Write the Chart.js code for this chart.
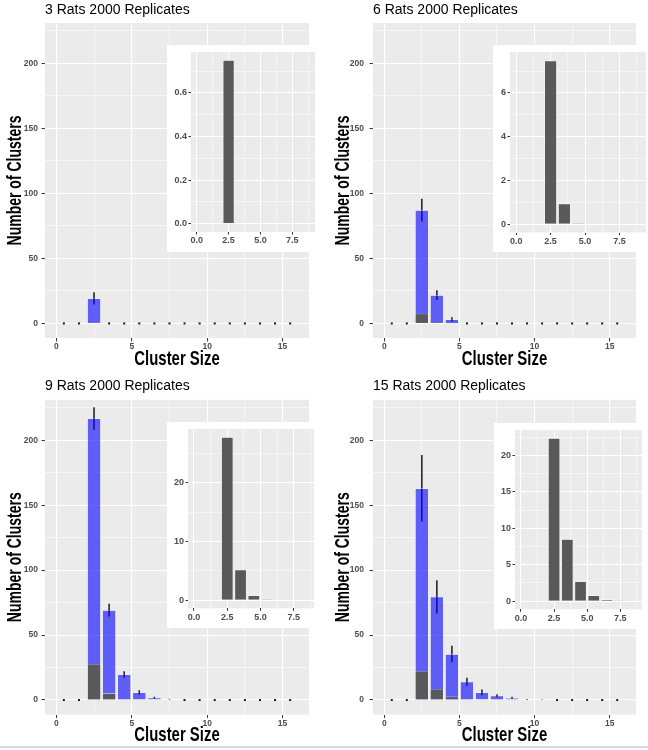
<!DOCTYPE html>
<html>
<head>
<meta charset="utf-8">
<script src="https://cdn.jsdelivr.net/npm/chart.js@4.4.0/dist/chart.umd.min.js"></script>
<style>
html, body { margin: 0; padding: 0; background: #fff; }
#fig { position: relative; width: 648px; height: 750px; overflow: hidden; background: #fff; }
#fig canvas { position: absolute; }
.inset { background: #fff; }
#rule { position: absolute; left: 0; top: 746px; width: 648px; height: 2px; background: #dadada; }
</style>
</head>
<body>
<div id="fig">
  <canvas id="main3" width="324" height="372" style="left:0;top:0"></canvas>
  <canvas id="main6" width="324" height="372" style="left:324px;top:0"></canvas>
  <canvas id="main9" width="324" height="378" style="left:0;top:372px"></canvas>
  <canvas id="main15" width="324" height="378" style="left:324px;top:372px"></canvas>
  <canvas id="inset3" class="inset" width="148" height="207" style="left:167px;top:45px"></canvas>
  <canvas id="inset6" class="inset" width="153" height="207" style="left:493px;top:45px"></canvas>
  <canvas id="inset9" class="inset" width="147" height="206" style="left:167px;top:422px"></canvas>
  <canvas id="inset15" class="inset" width="148" height="206" style="left:494px;top:423px"></canvas>
  <div id="rule"></div>
</div>
<script>
// cluster size bins (bar centres)
const clusterSizes = [0.5, 1.5, 2.5, 3.5, 4.5, 5.5, 6.5, 7.5, 8.5, 9.5, 10.5, 11.5, 12.5, 13.5, 14.5, 15.5];

// mean number of clusters (blue), sd (error bars), and the dark overlay series
const rats3Mean  = [0, 0, 19.2, 0, 0, 0, 0, 0, 0, 0, 0, 0, 0, 0, 0, 0];
const rats3Sd    = [0, 0, 4.7, 0, 0, 0, 0, 0, 0, 0, 0, 0, 0, 0, 0, 0];
const rats3Dark  = [0, 0, 0.75, 0, 0, 0, 0, 0, 0, 0, 0, 0, 0, 0, 0, 0];

const rats6Mean  = [0, 0, 87.2, 21.8, 3.1, 0, 0, 0, 0, 0, 0, 0, 0, 0, 0, 0];
const rats6Sd    = [0, 0, 8.7, 3.8, 1.7, 0, 0, 0, 0, 0, 0, 0, 0, 0, 0, 0];
const rats6Dark  = [0, 0, 7.47, 0.94, 0.06, 0, 0, 0, 0, 0, 0, 0, 0, 0, 0, 0];

const rats9Mean  = [0, 0, 216.7, 69.2, 19.7, 5.9, 1.8, 0.6, 0, 0, 0, 0, 0, 0, 0, 0];
const rats9Sd    = [0, 0, 8.7, 4.9, 2.5, 1.6, 0.7, 0.3, 0, 0, 0, 0, 0, 0, 0, 0];
const rats9Dark  = [0, 0, 27.8, 5.2, 0.8, 0.15, 0, 0, 0, 0, 0, 0, 0, 0, 0, 0];

const rats15Mean = [0, 0, 163, 79.5, 35.4, 14.1, 5.9, 3.3, 1.7, 0.6, 0.5, 0, 0, 0, 0, 0];
const rats15Sd   = [0, 0, 25.6, 12.8, 6.4, 3.0, 2.3, 1.2, 0.8, 0.3, 0.2, 0, 0, 0, 0, 0];
const rats15Dark = [0, 0, 22.4, 8.5, 2.7, 0.8, 0.25, 0.1, 0, 0, 0, 0, 0, 0, 0, 0];

// tick positions
const yMajor = [0, 50, 100, 150, 200];
const yMinor = [25, 75, 125, 175, 225];
const xMajor = [0, 5, 10, 15];
const xMinor = [2.5, 7.5, 12.5];
const insetXMajor = [0, 2.5, 5, 7.5];
const insetXMinor = [1.25, 3.75, 6.25, 8.75];
const inset3YMajor = [0, 0.2, 0.4, 0.6];
const inset3YMinor = [0.1, 0.3, 0.5, 0.7];
const inset6YMajor = [0, 2, 4, 6];
const inset6YMinor = [1, 3, 5, 7];
const inset9YMajor = [0, 10, 20];
const inset9YMinor = [5, 15, 25];
const inset15YMajor = [0, 5, 10, 15, 20];
const inset15YMinor = [2.5, 7.5, 12.5, 17.5, 22.5];

const REG = '"Liberation Sans", Arial, sans-serif';
const TICK_COL = '#4d4d4d';

// grey ggplot-like panel
const panelBg = {
    id: 'panelBg',
    beforeDraw(chart) {
        const a = chart.chartArea;
        const ctx = chart.ctx;
        ctx.save();
        ctx.fillStyle = '#ebebeb';
        ctx.fillRect(a.left, a.top, a.right - a.left, a.bottom - a.top);
        ctx.restore();
    }
};

// vertical error bars drawn under the bars
function errorBars(mean, sd) {
    return {
        id: 'errorBars',
        beforeDatasetsDraw(chart) {
            const ctx = chart.ctx;
            const xs = chart.scales.x, ys = chart.scales.y;
            ctx.save();
            ctx.strokeStyle = '#1a1a1a';
            ctx.fillStyle = '#1a1a1a';
            ctx.lineWidth = 1.5;
            clusterSizes.forEach((c, i) => {
                const px = xs.getPixelForValue(c);
                if (sd[i] === 0) {
                    const py = ys.getPixelForValue(mean[i]);
                    ctx.fillRect(px - 1, py - 1, 2, 2);
                    return;
                }
                ctx.beginPath();
                ctx.moveTo(px, ys.getPixelForValue(mean[i] - sd[i]));
                ctx.lineTo(px, ys.getPixelForValue(mean[i] + sd[i]));
                ctx.stroke();
            });
            ctx.restore();
        }
    };
}

// condensed bold axis titles, like the narrow font of the original
function axisTitles(yTitleX, xTitleY) {
    return {
        id: 'axisTitles',
        afterDraw(chart) {
            const a = chart.chartArea;
            const ctx = chart.ctx;
            ctx.save();
            ctx.fillStyle = '#000';
            ctx.font = 'bold 21px ' + REG;
            ctx.textAlign = 'center';
            ctx.textBaseline = 'middle';
            ctx.translate((a.left + a.right) / 2, xTitleY);
            ctx.scale(0.71, 1);
            ctx.fillText('Cluster Size', 0, 0);
            ctx.restore();

            ctx.save();
            ctx.fillStyle = '#000';
            ctx.font = 'bold 20px ' + REG;
            ctx.textAlign = 'center';
            ctx.textBaseline = 'middle';
            ctx.translate(yTitleX, (a.top + a.bottom) / 2);
            ctx.rotate(-Math.PI / 2);
            ctx.scale(0.70, 1);
            ctx.fillText('Number of Clusters', 0, 0);
            ctx.restore();
        }
    };
}

function gridOpts(major, lwMajor, lwMinor, tickLen) {
    return {
        color: '#ffffff',
        lineWidth: c => (c.tick && major.includes(c.tick.value)) ? lwMajor : lwMinor,
        drawTicks: true,
        tickLength: tickLen,
        tickWidth: 1,
        tickColor: c => (c.tick && major.includes(c.tick.value)) ? '#333333' : 'rgba(0,0,0,0)',
        offset: false
    };
}

function setTicks(values) {
    return scale => { scale.ticks = values.map(v => ({ value: v })); };
}

function barSets(darkVals, meanVals) {
    const edge = ctx => (ctx.raw && ctx.raw.y > 0) ? 0.6 : 0;
    const sets = [{
        label: 'dark',
        data: clusterSizes.map((c, i) => ({ x: c, y: darkVals[i] })),
        backgroundColor: '#595959',
        borderColor: 'rgba(255,255,255,0.85)',
        borderWidth: edge,
        grouped: false,
        barPercentage: 0.9,
        categoryPercentage: 1
    }];
    if (meanVals) {
        sets.push({
            label: 'mean',
            data: clusterSizes.map((c, i) => ({ x: c, y: meanVals[i] })),
            backgroundColor: 'rgba(0,0,255,0.6)',
            borderColor: 'rgba(255,255,255,0.6)',
            borderWidth: edge,
            grouped: false,
            barPercentage: 0.9,
            categoryPercentage: 1
        });
    }
    return sets;
}

function makeMain(id, title, mean, sd, dark, g) {
    new Chart(document.getElementById(id), {
        type: 'bar',
        data: { datasets: barSets(dark, mean) },
        options: {
            responsive: false,
            animation: false,
            layout: { padding: { left: 0, right: g.padRight, top: 0, bottom: 0 } },
            plugins: {
                legend: { display: false },
                tooltip: { enabled: false },
                title: {
                    display: true,
                    text: title,
                    align: 'start',
                    fullSize: false,
                    color: '#000',
                    font: { family: REG, size: 14, weight: 'normal' },
                    padding: { top: g.titleTop, bottom: g.titleBottom }
                }
            },
            scales: {
                x: {
                    type: 'linear',
                    min: -0.75,
                    max: 16.75,
                    offset: false,
                    afterBuildTicks: setTicks(xMajor.concat(xMinor)),
                    afterFit: s => { s.height = g.xAxisH; },
                    border: { display: false },
                    grid: gridOpts(xMajor, 1.1, 0.55, 3.5),
                    ticks: {
                        autoSkip: false, maxRotation: 0, padding: 0.5,
                        color: TICK_COL,
                        font: { family: REG, size: 8.5, weight: 'bold' },
                        callback: v => xMajor.includes(v) ? String(v) : ''
                    }
                },
                y: {
                    min: -11.2,
                    max: 231.1,
                    afterBuildTicks: setTicks(yMajor.concat(yMinor)),
                    afterFit: s => { s.width = g.yAxisW; },
                    border: { display: false },
                    grid: gridOpts(yMajor, 1.1, 0.55, 3.5),
                    ticks: {
                        autoSkip: false, padding: g.yTickPad,
                        color: TICK_COL,
                        font: { family: REG, size: 8.5, weight: 'bold' },
                        callback: v => yMajor.includes(v) ? String(v) : ''
                    }
                }
            }
        },
        plugins: [panelBg, errorBars(mean, sd), axisTitles(g.yTitleX, g.xTitleY)]
    });
}

function makeInset(id, dark, g) {
    new Chart(document.getElementById(id), {
        type: 'bar',
        data: { datasets: barSets(dark, null) },
        options: {
            responsive: false,
            animation: false,
            layout: { padding: { left: 0, right: 0, top: g.padTop, bottom: 0 } },
            plugins: { legend: { display: false }, tooltip: { enabled: false } },
            scales: {
                x: {
                    type: 'linear',
                    min: -0.45,
                    max: g.xMax,
                    offset: false,
                    afterBuildTicks: setTicks(insetXMajor.concat(insetXMinor)),
                    afterFit: s => { s.height = g.xAxisH; },
                    border: { display: false },
                    grid: gridOpts(insetXMajor, 1, 0.5, 2.5),
                    ticks: {
                        autoSkip: false, maxRotation: 0, padding: 1,
                        color: TICK_COL,
                        font: { family: REG, size: 9, weight: 'bold' },
                        callback: v => insetXMajor.includes(v) ? v.toFixed(1) : ''
                    }
                },
                y: {
                    min: g.yMin,
                    max: g.yMax,
                    afterBuildTicks: setTicks(g.yMajor.concat(g.yMinor)),
                    afterFit: s => { s.width = g.yAxisW; },
                    border: { display: false },
                    grid: gridOpts(g.yMajor, 1, 0.5, 2.5),
                    ticks: {
                        autoSkip: false, padding: 1.5,
                        color: TICK_COL,
                        font: { family: REG, size: 9, weight: 'bold' },
                        callback: v => g.yMajor.includes(v) ? v.toFixed(g.digits) : ''
                    }
                }
            }
        },
        plugins: [panelBg]
    });
}

const topRow = { xAxisH: 34, titleTop: 1.6, titleBottom: 4.6, xTitleY: 359 };
const bottomRow = { xAxisH: 35.4, titleTop: 6, titleBottom: 5, xTitleY: 363 };

makeMain('main3', '3 Rats 2000 Replicates', rats3Mean, rats3Sd, rats3Dark,
    Object.assign({ yAxisW: 45, padRight: 15, yTitleX: 15.5, yTickPad: 3.5 }, topRow));
makeMain('main6', '6 Rats 2000 Replicates', rats6Mean, rats6Sd, rats6Dark,
    Object.assign({ yAxisW: 49, padRight: 12, yTitleX: 19.5, yTickPad: 5.5 }, topRow));
makeMain('main9', '9 Rats 2000 Replicates', rats9Mean, rats9Sd, rats9Dark,
    Object.assign({ yAxisW: 45, padRight: 15, yTitleX: 15.5, yTickPad: 3.5 }, bottomRow));
makeMain('main15', '15 Rats 2000 Replicates', rats15Mean, rats15Sd, rats15Dark,
    Object.assign({ yAxisW: 49, padRight: 12, yTitleX: 19.5, yTickPad: 5.5 }, bottomRow));

makeInset('inset3', rats3Dark, { padTop: 5, xAxisH: 20, yAxisW: 24, xMax: 9.28,
    yMin: -0.0375, yMax: 0.7875, yMajor: inset3YMajor, yMinor: inset3YMinor, digits: 1 });
makeInset('inset6', rats6Dark, { padTop: 5, xAxisH: 19.5, yAxisW: 17, xMax: 9.43,
    yMin: -0.375, yMax: 7.875, yMajor: inset6YMajor, yMinor: inset6YMinor, digits: 0 });
makeInset('inset9', rats9Dark, { padTop: 6.3, xAxisH: 19.7, yAxisW: 21, xMax: 9.02,
    yMin: -1.39, yMax: 29.19, yMajor: inset9YMajor, yMinor: inset9YMinor, digits: 0 });
makeInset('inset15', rats15Dark, { padTop: 5.3, xAxisH: 19.7, yAxisW: 21, xMax: 9.14,
    yMin: -1.12, yMax: 23.52, yMajor: inset15YMajor, yMinor: inset15YMinor, digits: 0 });
</script>
</body>
</html>
